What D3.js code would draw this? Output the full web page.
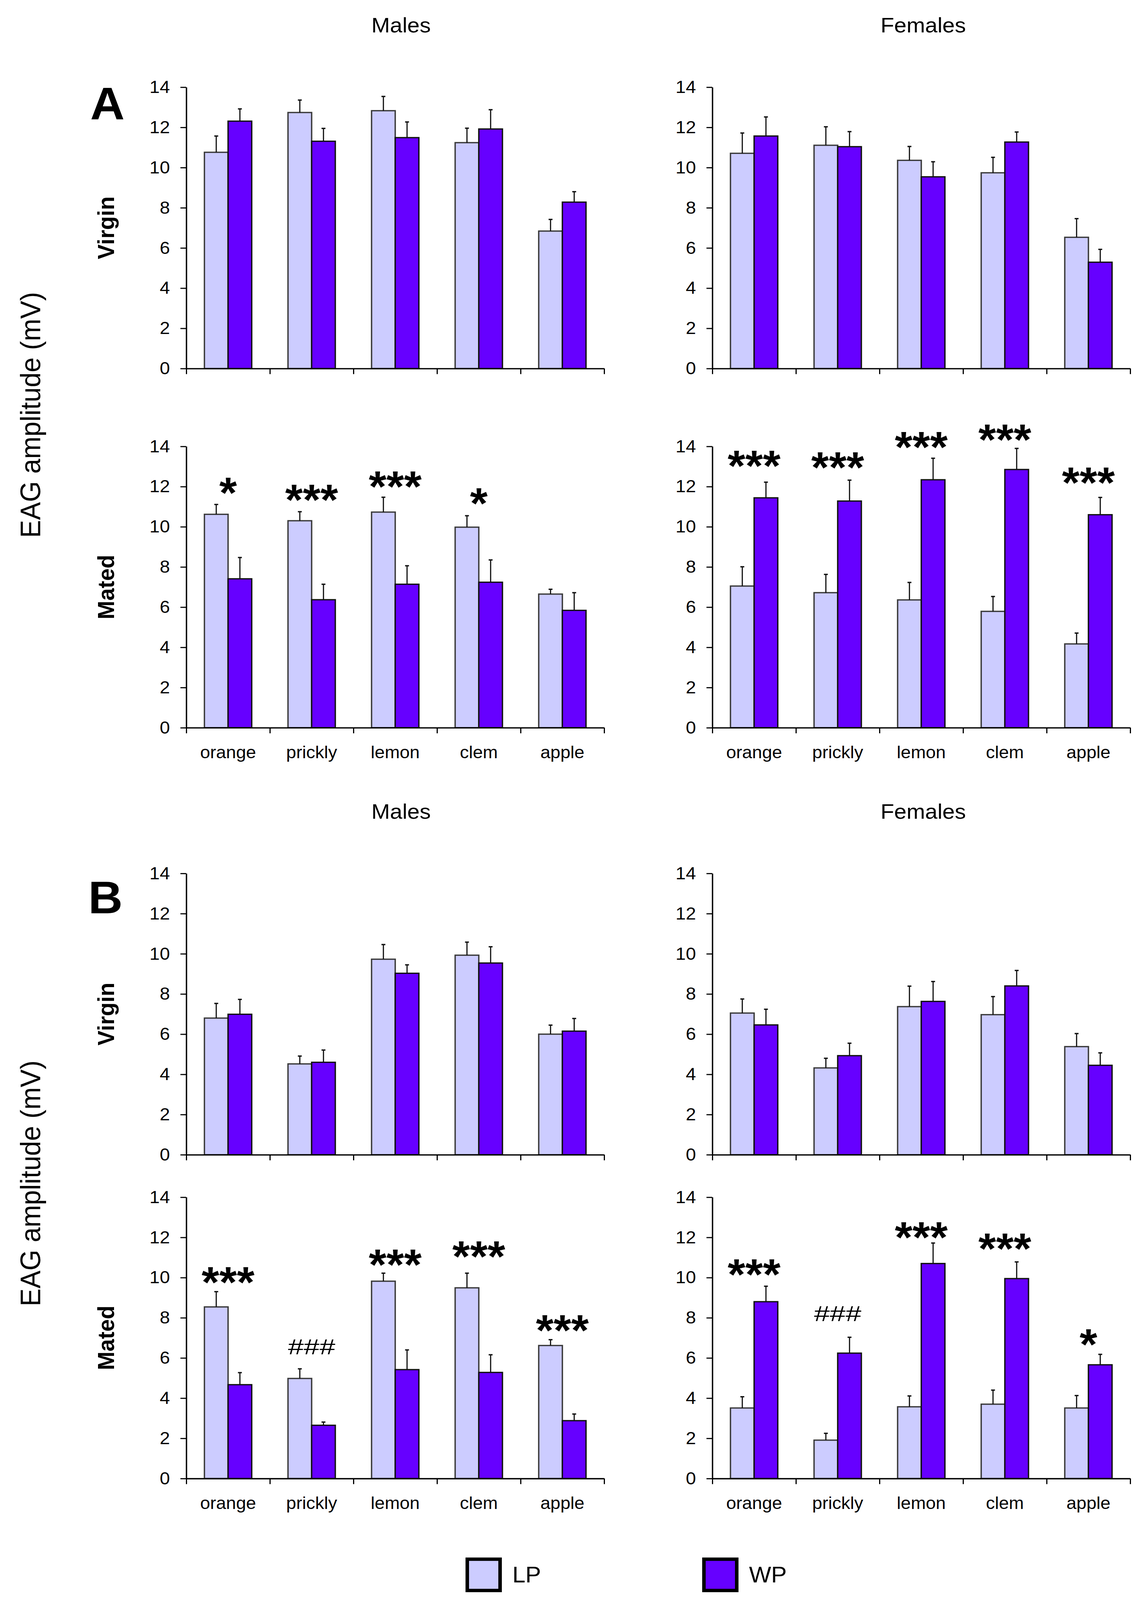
<!DOCTYPE html>
<html><head><meta charset="utf-8">
<script src="https://cdn.jsdelivr.net/npm/d3@7"></script>
<style>
html,body{margin:0;padding:0;background:#fff;overflow:hidden;width:100%;height:100%}
svg{display:block;width:100vw;height:100vh}
text{font-family:"Liberation Sans",Arial,Helvetica,sans-serif;fill:#000}
</style>
</head><body>
<svg id="chart" viewBox="0 0 2937 4294" preserveAspectRatio="none"></svg>
<script>
// ---------------- DATA ----------------
const categories = ["orange", "prickly", "lemon", "clem", "apple"];
const seriesNames = ["LP", "WP"];
const yTicks = [0, 2, 4, 6, 8, 10, 12, 14];
const sexTitles = ["Males", "Females"];
const rowLabels = ["Virgin", "Mated"];
const sectionLetters = ["A", "B"];

// A – virgin males
const aVirginMalesLP   = [10.76, 12.74, 12.83, 11.24, 6.84];
const aVirginMalesLPse = [0.81, 0.62, 0.71, 0.72, 0.58];
const aVirginMalesWP   = [12.31, 11.31, 11.49, 11.92, 8.28];
const aVirginMalesWPse = [0.61, 0.64, 0.78, 0.96, 0.52];
// A – virgin females
const aVirginFemalesLP   = [10.71, 11.11, 10.36, 9.74, 6.53];
const aVirginFemalesLPse = [1.01, 0.92, 0.69, 0.77, 0.93];
const aVirginFemalesWP   = [11.57, 11.04, 9.54, 11.27, 5.29];
const aVirginFemalesWPse = [0.95, 0.75, 0.75, 0.50, 0.64];
// A – mated males
const aMatedMalesLP   = [10.62, 10.30, 10.73, 9.98, 6.65];
const aMatedMalesLPse = [0.49, 0.45, 0.74, 0.57, 0.24];
const aMatedMalesWP   = [7.41, 6.37, 7.14, 7.24, 5.84];
const aMatedMalesWPse = [1.06, 0.77, 0.92, 1.11, 0.88];
const aMatedMalesSig      = ["*", "***", "***", "*", ""];
const aMatedMalesSigLevel = [12.17, 11.82, 12.47, 11.65, null];
// A – mated females
const aMatedFemalesLP   = [7.05, 6.72, 6.36, 5.79, 4.17];
const aMatedFemalesLPse = [0.96, 0.91, 0.87, 0.74, 0.54];
const aMatedFemalesWP   = [11.44, 11.28, 12.34, 12.85, 10.60];
const aMatedFemalesWPse = [0.78, 1.04, 1.07, 1.05, 0.86];
const aMatedFemalesSig      = ["***", "***", "***", "***", "***"];
const aMatedFemalesSigLevel = [13.51, 13.44, 14.44, 14.81, 12.67];
// B – virgin males
const bVirginMalesLP   = [6.80, 4.52, 9.73, 9.93, 6.00];
const bVirginMalesLPse = [0.73, 0.39, 0.73, 0.65, 0.45];
const bVirginMalesWP   = [6.99, 4.60, 9.03, 9.54, 6.15];
const bVirginMalesWPse = [0.74, 0.61, 0.42, 0.81, 0.63];
// B – virgin females
const bVirginFemalesLP   = [7.05, 4.32, 7.37, 6.97, 5.38];
const bVirginFemalesLPse = [0.70, 0.48, 1.02, 0.90, 0.65];
const bVirginFemalesWP   = [6.46, 4.93, 7.63, 8.40, 4.45];
const bVirginFemalesWPse = [0.78, 0.62, 0.99, 0.77, 0.62];
// B – mated males
const bMatedMalesLP   = [8.54, 4.98, 9.82, 9.49, 6.62];
const bMatedMalesLPse = [0.76, 0.48, 0.40, 0.73, 0.29];
const bMatedMalesWP   = [4.67, 2.65, 5.42, 5.28, 2.88];
const bMatedMalesWPse = [0.60, 0.16, 0.98, 0.88, 0.33];
const bMatedMalesSig      = ["***", "###", "***", "***", "***"];
const bMatedMalesSigLevel = [10.25, 6.58, 11.11, 11.53, 7.86];
// B – mated females
const bMatedFemalesLP   = [3.51, 1.91, 3.57, 3.70, 3.51];
const bMatedFemalesLPse = [0.56, 0.34, 0.54, 0.70, 0.62];
const bMatedFemalesWP   = [8.80, 6.24, 10.70, 9.95, 5.66];
const bMatedFemalesWPse = [0.77, 0.79, 1.02, 0.83, 0.52];
const bMatedFemalesSig      = ["***", "###", "***", "***", "*"];
const bMatedFemalesSigLevel = [10.64, 8.22, 12.48, 11.92, 7.16];

// ---------------- LAYOUT ----------------
const FONT = '"Liberation Sans",Arial,Helvetica,sans-serif';
const colors = {LP: "#CCCCFF", WP: "#6600FF"};
const outline = {LP: "#3a3a3a", WP: "#111"};
const panelW = 1070, panelH = 755;
const colX = [477, 1824];
const rowTop = [234, 1198, 2344, 3213];

const panels = [
  {col:0,row:0,LP:aVirginMalesLP,LPse:aVirginMalesLPse,WP:aVirginMalesWP,WPse:aVirginMalesWPse},
  {col:1,row:0,LP:aVirginFemalesLP,LPse:aVirginFemalesLPse,WP:aVirginFemalesWP,WPse:aVirginFemalesWPse},
  {col:0,row:1,LP:aMatedMalesLP,LPse:aMatedMalesLPse,WP:aMatedMalesWP,WPse:aMatedMalesWPse,sig:aMatedMalesSig,sigLevel:aMatedMalesSigLevel,labels:true},
  {col:1,row:1,LP:aMatedFemalesLP,LPse:aMatedFemalesLPse,WP:aMatedFemalesWP,WPse:aMatedFemalesWPse,sig:aMatedFemalesSig,sigLevel:aMatedFemalesSigLevel,labels:true},
  {col:0,row:2,LP:bVirginMalesLP,LPse:bVirginMalesLPse,WP:bVirginMalesWP,WPse:bVirginMalesWPse},
  {col:1,row:2,LP:bVirginFemalesLP,LPse:bVirginFemalesLPse,WP:bVirginFemalesWP,WPse:bVirginFemalesWPse},
  {col:0,row:3,LP:bMatedMalesLP,LPse:bMatedMalesLPse,WP:bMatedMalesWP,WPse:bMatedMalesWPse,sig:bMatedMalesSig,sigLevel:bMatedMalesSigLevel,labels:true},
  {col:1,row:3,LP:bMatedFemalesLP,LPse:bMatedFemalesLPse,WP:bMatedFemalesWP,WPse:bMatedFemalesWPse,sig:bMatedFemalesSig,sigLevel:bMatedFemalesSigLevel,labels:true}
];

const svg = d3.select("#chart");
svg.append("rect").attr("width", 2937).attr("height", 4294).attr("fill", "#fff");

const y = d3.scaleLinear().domain([0, 14]).range([panelH, 0]);
const x0 = d3.scaleBand().domain(categories).range([0, panelW]).paddingInner(0).paddingOuter(0);
const bw = x0.bandwidth();
const x1 = d3.scaleBand().domain(seriesNames).range([bw * 0.217, bw * 0.783]).padding(0);
const xIdx = d3.scaleLinear().domain([0, categories.length]).range([0, panelW]);

panels.forEach(p => {
  const g = svg.append("g").attr("transform", `translate(${colX[p.col]},${rowTop[p.row]})`);

  const groups = g.selectAll("g.cat").data(categories).enter().append("g")
    .attr("transform", c => `translate(${x0(c)},0)`);
  groups.each(function(c, i) {
    const gg = d3.select(this);
    seriesNames.forEach(s => {
      const v = p[s][i], se = p[s + "se"][i];
      gg.append("rect")
        .attr("x", x1(s)).attr("y", y(v))
        .attr("width", x1.bandwidth()).attr("height", y(0) - y(v))
        .attr("fill", colors[s]).attr("stroke", outline[s]).attr("stroke-width", 3.5);
      const cx = x1(s) + x1.bandwidth() / 2;
      gg.append("line").attr("x1", cx).attr("x2", cx).attr("y1", y(v)).attr("y2", y(v + se))
        .attr("stroke", "#111").attr("stroke-width", 3);
      gg.append("line").attr("x1", cx - 5).attr("x2", cx + 5).attr("y1", y(v + se)).attr("y2", y(v + se))
        .attr("stroke", "#111").attr("stroke-width", 3.5);
    });
    if (p.sig && p.sig[i]) {
      const lab = p.sig[i];
      const isHash = lab.indexOf("#") >= 0;
      const t = gg.append("text")
        .attr("x", bw / 2)
        .attr("text-anchor", "middle")
        .style("font-family", FONT)
        .text(lab);
      if (isHash) {
        t.attr("y", y(p.sigLevel[i]) + 21).style("font-size", "58px")
         .attr("textLength", 121).attr("lengthAdjust", "spacingAndGlyphs");
      } else {
        t.attr("y", y(p.sigLevel[i]) + 66).style("font-size", "116px").style("font-weight", "bold");
      }
    }
  });

  const ya = g.append("g").call(d3.axisLeft(y).tickValues(yTicks).tickSize(15).tickSizeOuter(0).tickPadding(27));
  ya.select(".domain").attr("stroke", "#000").attr("stroke-width", 3.5);
  ya.selectAll(".tick line").attr("stroke", "#000").attr("stroke-width", 3);
  ya.selectAll(".tick text").style("font-size", "47px").style("font-family", FONT).attr("fill", "#000");

  const xa = g.append("g").attr("transform", `translate(0,${panelH})`)
    .call(d3.axisBottom(xIdx).tickValues(d3.range(categories.length + 1)).tickSize(15).tickSizeOuter(0).tickFormat(""));
  xa.select(".domain").attr("stroke", "#000").attr("stroke-width", 3.5);
  xa.selectAll(".tick line").attr("stroke", "#000").attr("stroke-width", 3);

  if (p.labels) {
    g.selectAll("text.cat").data(categories).enter().append("text")
      .attr("class", "cat")
      .attr("x", c => x0(c) + bw / 2).attr("y", panelH + 82)
      .attr("text-anchor", "middle")
      .style("font-size", "46px").style("font-family", FONT)
      .text(c => c);
  }
});

[0, 2].forEach(r => {
  sexTitles.forEach((t, ci) => {
    svg.append("text")
      .attr("x", colX[ci] + panelW / 2 + (ci === 0 ? 15 : 5))
      .attr("y", rowTop[r] - 147)
      .attr("text-anchor", "middle")
      .style("font-size", "57px").style("font-family", FONT)
      .text(t);
  });
});

sectionLetters.forEach((L, k) => {
  svg.append("text")
    .attr("x", k === 0 ? 231 : 226)
    .attr("y", rowTop[k * 2] + (k === 0 ? 87 : 107))
    .style("font-size", "122px").style("font-weight", "bold").style("font-family", FONT)
    .text(L);
});

rowTop.forEach((top, r) => {
  const cy = top + panelH / 2;
  svg.append("text")
    .attr("transform", `translate(292,${cy}) rotate(-90)`)
    .attr("text-anchor", "middle")
    .style("font-size", "60px").style("font-weight", "bold").style("font-family", FONT)
    .text(rowLabels[r % 2]);
});

[0, 2].forEach(r => {
  const cy = (rowTop[r] + rowTop[r + 1] + panelH) / 2 + 20;
  svg.append("text")
    .attr("transform", `translate(103,${cy}) rotate(-90)`)
    .attr("text-anchor", "middle")
    .style("font-size", "72px").style("font-family", FONT)
    .text("EAG amplitude (mV)");
});

const legendX = [1192, 1798];
seriesNames.forEach((s, i) => {
  svg.append("rect")
    .attr("x", legendX[i] + 4.5).attr("y", 4184.5).attr("width", 84).attr("height", 84)
    .attr("fill", colors[s]).attr("stroke", "#000").attr("stroke-width", 9);
  svg.append("text")
    .attr("x", legendX[i] + 120).attr("y", 4247)
    .style("font-size", "60px").style("font-family", FONT)
    .text(s);
});
</script>
</body></html>
